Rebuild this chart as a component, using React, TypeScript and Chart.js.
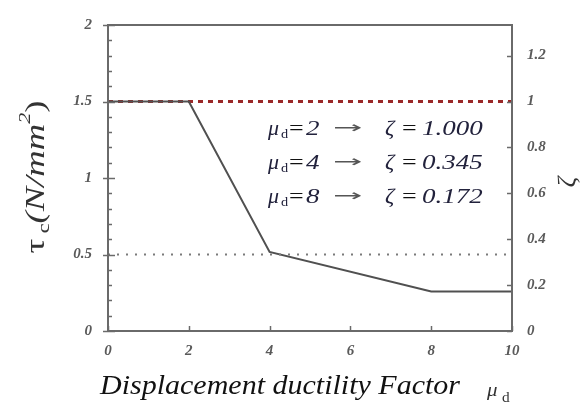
import React, { useEffect, useRef } from "react";
import { Chart, registerables } from "chart.js";

Chart.register(...registerables);

// ---- data ----
const ductility = [0, 2, 4, 8, 10];
const tauC = [1.5, 1.5, 0.517, 0.258, 0.258];
const zetaRefX = [0, 10];
const zetaRef = [1, 1];
const tauLimitX = [0, 10];
const tauLimit = [0.5, 0.5];

const xTicks = [0, 2, 4, 6, 8, 10];
const yTicks = [0, 0.5, 1, 1.5, 2];
const y2Ticks = [0, 0.2, 0.4, 0.6, 0.8, 1, 1.2];

const annMu = ["2", "4", "8"];
const annZeta = ["1.000", "0.345", "0.172"];

const fmt = (v: number) => (v === 0 ? "0" : String(v));

function txt(ctx: CanvasRenderingContext2D, t: string, font: string, x: number, y: number, sx: number, color: string) {
  ctx.save();
  ctx.font = font;
  ctx.fillStyle = color;
  ctx.textAlign = "left";
  ctx.textBaseline = "alphabetic";
  ctx.translate(x, y);
  ctx.scale(sx, 1);
  ctx.fillText(t, 0, 0);
  ctx.restore();
}

const overlay = {
  id: "overlay",
  afterDraw(chart: any) {
    const ctx: CanvasRenderingContext2D = chart.ctx;
    const a = chart.chartArea;
    const xs = chart.scales.x;
    const ys = chart.scales.y;
    const y2 = chart.scales.y2;
    ctx.save();
    // frame
    ctx.strokeStyle = "#6a6a6a";
    ctx.lineWidth = 2;
    ctx.strokeRect(a.left, a.top, a.right - a.left, a.bottom - a.top);
    ctx.lineWidth = 1.5;
    for (let i = 0; i <= 20; i++) {
      const v = i / 10;
      const p = Math.round(ys.getPixelForValue(v)) + 0.5;
      const major = i % 5 === 0;
      ctx.beginPath();
      ctx.moveTo(a.left - (major ? 5 : 0), p);
      ctx.lineTo(a.left + (major ? 7 : 4), p);
      ctx.stroke();
    }
    y2Ticks.forEach((v) => {
      const p = Math.round(y2.getPixelForValue(v)) + 0.5;
      ctx.beginPath();
      ctx.moveTo(a.right - 5, p);
      ctx.lineTo(a.right, p);
      ctx.stroke();
    });
    xTicks.forEach((v) => {
      const p = Math.round(xs.getPixelForValue(v)) + 0.5;
      ctx.beginPath();
      ctx.moveTo(p, a.bottom);
      ctx.lineTo(p, a.bottom - 5);
      ctx.stroke();
    });

    // annotations
    const rows = [135, 169, 203];
    const ink = "#22223c";
    rows.forEach((by, i) => {
      txt(ctx, "\u03bc", "italic 20px 'Liberation Serif'", 268, by, 1.1, ink);
      txt(ctx, "d", "13px 'Liberation Serif'", 281, by + 3, 1.1, ink);
      txt(ctx, "=", "20px 'Liberation Serif'", 289, by, 1.3, "#111");
      txt(ctx, annMu[i], "italic 20px 'Liberation Serif'", 306, by, 1.35, ink);
      txt(ctx, "\u2192", "16px 'DejaVu Sans'", 333, by - 2, 2.2, "#555");
      txt(ctx, "\u03b6", "italic 20px 'Liberation Serif'", 385, by, 1.15, ink);
      txt(ctx, "=", "20px 'Liberation Serif'", 402, by, 1.3, "#111");
      txt(ctx, annZeta[i], "italic 20px 'Liberation Serif'", 422, by, 1.35, ink);
    });

    // left axis title
    ctx.save();
    ctx.translate(44, 177);
    ctx.rotate(-Math.PI / 2);
    ctx.fillStyle = "#333";
    const parts: [string, string, number][] = [
      ["\u03c4", "28px 'Liberation Serif'", 0],
      [" c", "17px 'Liberation Serif'", 5],
      ["(N/mm", "italic 28px 'Liberation Serif'", 0],
      ["2", "italic 17px 'Liberation Serif'", -14],
      [")", "28px 'Liberation Serif'", 0],
    ];
    let total = 0;
    parts.forEach(([t, f]) => {
      ctx.font = f;
      total += ctx.measureText(t).width;
    });
    const s = 153 / total;
    ctx.scale(s, 1);
    let cx = -total / 2;
    parts.forEach(([t, f, dy]) => {
      ctx.font = f;
      ctx.fillText(t, cx, dy);
      cx += ctx.measureText(t).width;
    });
    ctx.restore();

    // right axis title
    ctx.save();
    ctx.translate(575, 182);
    ctx.rotate(-Math.PI / 2);
    ctx.font = "italic 26px 'Liberation Serif'";
    ctx.fillStyle = "#333";
    ctx.textAlign = "center";
    ctx.fillText("\u03b6", 0, 0);
    ctx.restore();

    // x axis title
    const xl = "Displacement ductility Factor";
    ctx.font = "italic 27px 'Liberation Serif'";
    const w = ctx.measureText(xl).width;
    txt(ctx, xl, "italic 27px 'Liberation Serif'", 100, 394, 360 / w, "#111");
    txt(ctx, "\u03bc", "italic 19px 'Liberation Serif'", 487, 396, 1.1, "#333");
    txt(ctx, "d", "14px 'Liberation Serif'", 502, 402, 1.1, "#333");
    ctx.restore();
  },
};

const tickFont = { family: "'Liberation Serif'", size: 15, style: "italic" as const, weight: "bold" as const };

export default function App() {
  const ref = useRef<HTMLCanvasElement>(null);
  useEffect(() => {
    const chart = new Chart(ref.current!, {
      type: "line",
      data: {
        datasets: [
          {
            data: tauLimitX.map((x, i) => ({ x, y: tauLimit[i] })),
            borderColor: "#7a7a7a",
            borderWidth: 2,
            borderDash: [2, 7],
            pointRadius: 0,
            yAxisID: "y",
          },
          {
            data: ductility.map((x, i) => ({ x, y: tauC[i] })),
            borderColor: "#505050",
            borderWidth: 2,
            pointRadius: 0,
            yAxisID: "y",
          },
          {
            data: zetaRefX.map((x, i) => ({ x, y: zetaRef[i] })),
            borderColor: "#9a2828",
            borderWidth: 3,
            borderDash: [5, 5],
            pointRadius: 0,
            yAxisID: "y2",
          },
        ],
      },
      options: {
        animation: false,
        responsive: false,
        layout: { padding: { top: 19, left: 0, right: 0, bottom: 0 } },
        plugins: { legend: { display: false }, tooltip: { enabled: false } },
        scales: {
          x: {
            type: "linear",
            min: 0,
            max: 10,
            grid: { display: false, drawTicks: false },
            border: { display: false },
            afterBuildTicks: (s: any) => {
              s.ticks = xTicks.map((value) => ({ value }));
            },
            afterFit: (s: any) => {
              s.height = 72;
            },
            ticks: { font: tickFont, color: "#5a5a5a", padding: 11, maxRotation: 0, callback: (v: any) => fmt(Number(v)) },
          },
          y: {
            type: "linear",
            position: "left",
            min: 0,
            max: 2,
            grid: { display: false, drawTicks: false },
            border: { display: false },
            afterBuildTicks: (s: any) => {
              s.ticks = yTicks.map((value) => ({ value }));
            },
            afterFit: (s: any) => {
              s.width = 108;
            },
            ticks: { font: tickFont, color: "#5a5a5a", padding: 16, callback: (v: any) => fmt(Number(v)) },
          },
          y2: {
            type: "linear",
            position: "right",
            min: 0,
            max: 4 / 3,
            grid: { display: false, drawTicks: false },
            border: { display: false },
            afterBuildTicks: (s: any) => {
              s.ticks = y2Ticks.map((value) => ({ value }));
            },
            afterFit: (s: any) => {
              s.width = 74;
            },
            ticks: { font: tickFont, color: "#5a5a5a", padding: 15, callback: (v: any) => fmt(Number(v)) },
          },
        },
      },
      plugins: [overlay],
    });
    return () => chart.destroy();
  }, []);
  return (
    <div style={{ position: "fixed", left: 0, top: 0, width: 586, height: 403, background: "#fff" }}>
      <canvas ref={ref} width={586} height={403} style={{ width: 586, height: 403 }} />
    </div>
  );
}
